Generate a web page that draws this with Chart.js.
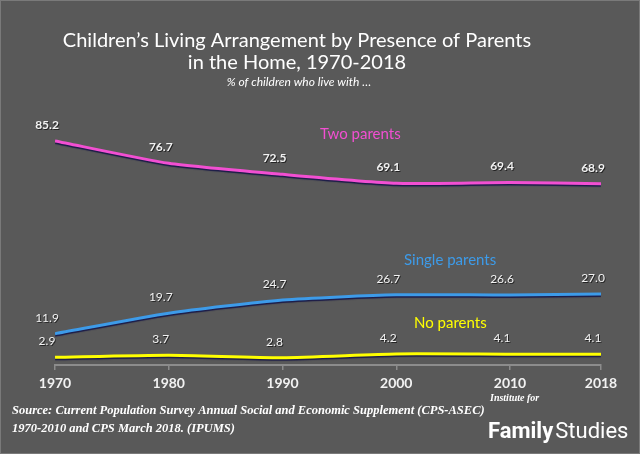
<!DOCTYPE html>
<html>
<head>
<meta charset="utf-8">
<script src="https://cdn.jsdelivr.net/npm/chart.js@4.4.1/dist/chart.umd.min.js"></script>
<style>
  html, body { margin: 0; padding: 0; background: #595959; }
  #wrap { width: 640px; height: 454px; }
</style>
</head>
<body>
<div id="wrap"><canvas id="c" width="640" height="454"></canvas></div>
<script>
// Данные кейса: доля детей (%) по типу проживания с родителями
const years = [1970, 1980, 1990, 2000, 2010, 2018];
const twoParents = [85.2, 76.7, 72.5, 69.1, 69.4, 68.9];
const singleParents = [11.9, 19.7, 24.7, 26.7, 26.6, 27.0];
const noParents = [2.9, 3.7, 2.8, 4.2, 4.1, 4.1];

const seriesNames = ['Two parents', 'Single parents', 'No parents'];
const titleLines = ['Children\u2019s Living Arrangement by Presence of Parents', 'in the Home, 1970-2018'];
const subtitle = '% of children who live with \u2026';
const sourceLines = [
  'Source: Current Population Survey Annual Social and Economic Supplement (CPS-ASEC)',
  '1970-2010 and CPS March 2018. (IPUMS)',
];

const BG = '#595959';
const PINK = '#f24fd2';
const BLUE = '#3d9be9';
const YELLOW = '#ffff00';
const SANS = 'Lato, "Open Sans", sans-serif';

// точки ряда для линейной оси X
const pts = (vals) => vals.map((v, i) => ({ x: years[i], y: v }));

// фон + рамка
const background = {
  id: 'background',
  beforeDraw(chart) {
    const { ctx, width, height } = chart;
    ctx.save();
    ctx.fillStyle = BG;
    ctx.fillRect(0, 0, width, height);
    ctx.strokeStyle = '#7a7a7a';
    ctx.lineWidth = 1;
    ctx.strokeRect(0.5, 0.5, width - 1, height - 1);
    ctx.restore();
  },
};

// тень под линиями
const lineShadow = {
  id: 'lineShadow',
  beforeDatasetDraw(chart) {
    const ctx = chart.ctx;
    ctx.save();
    ctx.shadowColor = 'rgba(20,20,70,0.9)';
    ctx.shadowOffsetY = 1.5;
    ctx.shadowBlur = 1;
  },
  afterDatasetDraw(chart) {
    chart.ctx.restore();
  },
};

// подписи значений над точками
const valueLabels = {
  id: 'valueLabels',
  afterDatasetsDraw(chart) {
    const { ctx } = chart;
    ctx.save();
    ctx.fillStyle = '#f2f2f2';
    ctx.textAlign = 'center';
    ctx.textBaseline = 'middle';
    ctx.shadowColor = 'rgba(0,0,0,0.6)';
    ctx.shadowOffsetX = 1;
    ctx.shadowOffsetY = 1;
    chart.data.datasets.forEach((ds, di) => {
      // у верхнего ряда подписи жирнее, как в оригинале
      ctx.font = (di === 0 ? 'bold ' : '') + '12px ' + SANS;
      const meta = chart.getDatasetMeta(di);
      meta.data.forEach((el, i) => {
        const v = ds.data[i].y;
        ctx.fillText(v.toFixed(1), el.x - 8, el.y - 16);
      });
    });
    ctx.restore();
  },
};

// заголовки, подписи рядов, источник, логотип
const texts = {
  id: 'texts',
  afterDraw(chart) {
    const { ctx } = chart;
    ctx.save();
    ctx.fillStyle = '#ffffff';
    ctx.textAlign = 'center';
    ctx.textBaseline = 'middle';
    ctx.font = '20px ' + SANS;
    ctx.fillText(titleLines[0], 297, 41);
    ctx.fillText(titleLines[1], 297, 63);
    ctx.font = 'italic 12px ' + SANS;
    ctx.fillText(subtitle, 299, 82);

    ctx.textAlign = 'left';
    ctx.font = '15px ' + SANS;
    ctx.fillStyle = PINK;
    ctx.fillText(seriesNames[0], 320, 134);
    ctx.fillStyle = BLUE;
    ctx.fillText(seriesNames[1], 404, 260);
    ctx.fillStyle = YELLOW;
    ctx.fillText(seriesNames[2], 414, 323);

    ctx.fillStyle = '#ffffff';
    ctx.font = 'bold italic 12.5px "Liberation Serif", serif';
    ctx.fillText(sourceLines[0], 12, 411);
    ctx.fillText(sourceLines[1], 12, 429);

    ctx.font = 'italic bold 10px "Liberation Serif", serif';
    ctx.fillText('Institute for', 490, 398);
    ctx.font = 'bold 22px Roboto, sans-serif';
    ctx.fillText('Family', 488, 432);
    const w = ctx.measureText('Family').width;
    ctx.font = '22px Roboto, sans-serif';
    ctx.fillText('Studies', 488 + w + 2, 432);
    ctx.restore();
  },
};

new Chart(document.getElementById('c'), {
  type: 'line',
  data: {
    datasets: [
      { label: seriesNames[0], data: pts(twoParents), borderColor: PINK },
      { label: seriesNames[1], data: pts(singleParents), borderColor: BLUE },
      { label: seriesNames[2], data: pts(noParents), borderColor: YELLOW },
    ],
  },
  options: {
    responsive: false,
    animation: false,
    layout: { padding: { left: 55, right: 39, top: 102, bottom: 0 } },
    elements: {
      line: { borderWidth: 3, tension: 0.2, fill: false },
      point: { radius: 0 },
    },
    plugins: {
      legend: { display: false },
      tooltip: { enabled: false },
    },
    scales: {
      x: {
        type: 'linear',
        min: years[0],
        max: years[years.length - 1],
        afterBuildTicks: (scale) => { scale.ticks = years.map((y) => ({ value: y })); },
        afterFit: (scale) => { scale.height = 89; },
        border: { display: true, color: '#8c8c8c', width: 2 },
        grid: { display: true, drawOnChartArea: false, drawTicks: true, tickLength: 5, color: '#8c8c8c', lineWidth: 1.5 },
        ticks: {
          color: '#f2f2f2',
          font: { family: SANS, size: 14, weight: 'bold' },
          padding: 5,
          maxRotation: 0,
          autoSkip: false,
          callback: (v) => String(v),
        },
      },
      y: { display: false, min: 0, max: 100 },
    },
  },
  plugins: [background, lineShadow, valueLabels, texts],
});
</script>
</body>
</html>
